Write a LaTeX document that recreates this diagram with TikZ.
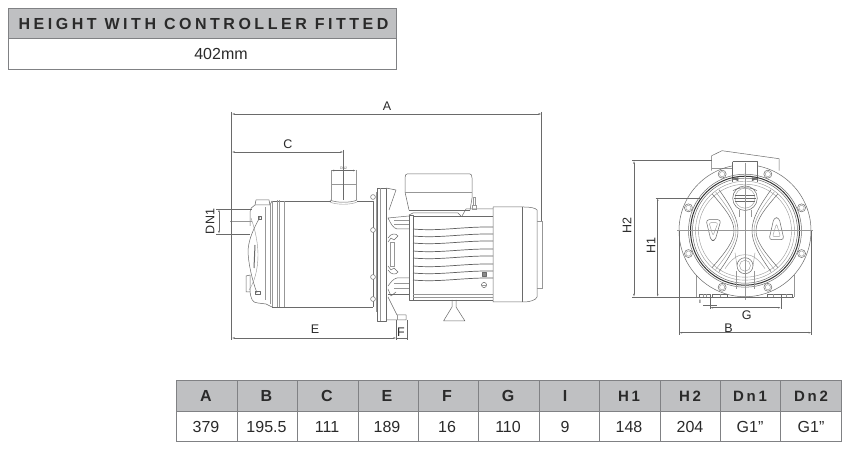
\documentclass[tikz,border=0pt]{standalone}
\usepackage{fontspec}
\setmainfont{Liberation Sans}
\newfontfamily\hdfont[LetterSpace=22]{Liberation Sans Bold}
\newfontfamily\thfont[LetterSpace=4]{Liberation Sans Bold}
\newfontfamily\thwide[LetterSpace=18]{Liberation Sans Bold}
\definecolor{hdr}{HTML}{BFC0C2}
\definecolor{rulec}{HTML}{808184}
\definecolor{ink}{HTML}{6A6A6A}
\definecolor{txt}{HTML}{2A2A2A}
\tikzset{
  part/.style={draw=ink,line width=0.5pt,line join=round},
  thin part/.style={draw=ink!70,line width=0.4pt},
  heavy/.style={draw=ink!50!black,line width=1pt},
  dimline/.style={draw=ink,line width=0.45pt},
  dimarrow/.style={dimline,{Latex[length=3pt,width=1.6pt]}-{Latex[length=3pt,width=1.6pt]}},
  dimlabel/.style={font=\fontsize{12.5}{13}\selectfont,text=txt,inner sep=0pt},
  tbl/.style={draw=rulec,line width=0.8pt},
  cellhead/.style={font=\fontsize{16}{16}\thfont,text=txt,inner sep=0pt,anchor=center},
  cellwide/.style={font=\fontsize{15}{16}\thwide,text=txt,inner sep=0pt,anchor=center},
  cellval/.style={font=\fontsize{16}{16}\selectfont,text=txt,inner sep=0pt,anchor=center},
}
\usetikzlibrary{arrows.meta}
\begin{document}
\begin{tikzpicture}[x=1pt,y=-1pt]
\useasboundingbox (0,0) rectangle (849,454);
\fill[white] (0,0) rectangle (849,454);
% header table
\fill[hdr] (8.5,8) rectangle (396.5,38.5);
\draw[tbl] (8.5,8) rectangle (396.5,69.5);
\draw[tbl] (8.5,38.5) -- (396.5,38.5);
\node[font=\fontsize{16}{16}\hdfont,text=txt,inner sep=0pt] (hdr) at (203.5,23.5) {HEIGHT WITH CONTROLLER FITTED};
\node[cellval] (hv) at (221,54) {402mm};
% bottom table
\fill[hdr] (176.5,380) rectangle (841,411);
\draw[tbl] (176.5,380) rectangle (841,441);
\draw[tbl] (176.5,411) -- (841,411);
\foreach \x in {237.5,297.5,358,418.5,478.5,539.5,599.5,660,720.5,780.5} \draw[tbl] (\x,380) -- (\x,441);
\foreach \x/\h/\v/\s in {206/A/379/cellhead,266.5/B/195.5/cellhead,327/C/111/cellhead,387/E/189/cellhead,447/F/16/cellhead,508/G/110/cellhead,565/I/9/cellhead,629/H1/148/cellwide,690/H2/204/cellwide,750/Dn1/G1”/cellwide,811/Dn2/G1”/cellwide}{
  \node[\s] (h\h) at (\x,396) {\h};
  \node[cellval] (v\h) at (\x,426.5) {\v};
}
% ---------- side view ----------
% nozzle
\draw[thin part] (331,200) -- (331,170) (356,170) -- (356,200);
\draw[thin part] (331,184) -- (356,184);
\draw[part] (330,200) .. controls (336,203) and (351,203) .. (357,200);
\draw[thin part] (330,202) .. controls (336,205) and (351,205) .. (357,202);
\draw[dimarrow] (331,170.5) -- (356,170.5);
\node[font=\fontsize{3.5}{4}\selectfont,text=ink,inner sep=0pt] (dn2t) at (343.5,168) {DN2};
% body
\draw[part] (272,201) -- (331,201) (357,201) -- (373,201);
\draw[part] (272,307) -- (373,307);
\draw[part] (373,201) -- (373,307);
\draw[thin part] (277,200.5) -- (277,307) (279,200.5) -- (279,307) (284,201) -- (284,307);
\draw[thin part] (272,201) -- (272,307);
% front cover
\draw[part] (272,201) -- (270,205) -- (255,205) .. controls (252,206) and (250,209) .. (250,213) -- (250,226);
\draw[part] (255,205) -- (256,200) -- (269,200) -- (270,205);
\draw[part] (246,276) -- (250,275) -- (250,292) -- (246,292) -- cycle;
\draw[part] (250,292) .. controls (251,298) and (252,303) .. (258,303) -- (266,304) -- (272,307);
\draw[part] (260,217) .. controls (254,228) and (249,238) .. (248,250) .. controls (248,262) and (252,280) .. (257,293);
\draw[thin part] (251,218) .. controls (256,232) and (258,245) .. (258,255) .. controls (258,270) and (254,283) .. (249,290);
\draw[part] (258,216) rectangle (261,219) (255,291) rectangle (260,294);
\draw[heavy,draw=ink] (255,245) -- (254,268);
\draw[thin part] (265,207) -- (265,300);
\draw[thin part] (270,205) -- (270,304);
% DN1
\draw[dimline] (216,209) -- (252,209) (216,234) -- (250,234);
\draw[dimarrow] (219,209) -- (219,234);
\draw[thin part] (230,221.5) -- (252,221.5);
\node[dimlabel,rotate=90] (dn1) at (210,221.5) {DN1};
% bolts
\foreach \y in {197,230,277,299} {
  \draw[part,fill=white] (373,\y) circle (2.4);
}
\draw[thin part] (376,192) -- (376,312);
% flange
\draw[part] (377,188) -- (386,188) -- (386,321) -- (377,321) -- cycle;
\draw[thin part] (380,188) -- (380,321);
\draw[part] (386,188) -- (396,190) -- (389,210);
\draw[part] (388,297) -- (397,315) -- (406,315) -- (406,320) -- (386,320);
\draw[thin part] (397,315) -- (397,320);
% arms
\draw[part] (388,218) -- (409,216) (388,218) .. controls (391,224) and (393,228) .. (397,229) -- (409,229);
\draw[thin part] (394,220) -- (409,220) (394,224) -- (409,224);
\draw[part] (388,286) .. controls (391,282) and (393,279) .. (397,278) -- (409,278);
\draw[part] (388,294) -- (409,294);
\draw[thin part] (394,283) -- (409,283) (394,288) -- (409,288);
\draw[part] (388,289) -- (391,296) -- (396,292);
% centre piece
\draw[part] (388,238) .. controls (391,233) and (396,233) .. (398,236) -- (394,240) -- (391,238) -- (388,242);
\draw[part] (388,270) .. controls (391,275) and (396,275) .. (398,272) -- (394,268) -- (391,270) -- (388,266);
\draw[thin part] (390,242) rectangle (394,266);
% motor
\draw[part] (409,215) rectangle (413,300);
\draw[part] (413,216) -- (493,216) (413,300) -- (493,300);
\draw[thin part] (413,294.5) -- (493,294.5);
\draw[heavy,draw=ink!70,line width=1.3pt] (413,297.5) -- (493,297.5);
\foreach \dy in {229,236,243,251,258,266,273,280} {
  \draw[part,line width=0.7pt,draw=ink!90!black] (413,\dy) .. controls (440,\dy+2.5) and (462,\dy-2.5) .. (493,\dy-2);
}
% conduit pad
\draw[part] (409,215) -- (413,213) -- (458,213) -- (461,216);
\draw[part] (462,216) -- (466,209) -- (493,209);
\draw[part] (409,210) -- (470,210);
% terminal box
\draw[part] (407,174) .. controls (406,174) and (405,175) .. (405,178) -- (405,192) -- (409,210);
\draw[part] (407,174) -- (470,174) .. controls (471,174) and (472,175) .. (472,178) -- (472,198) -- (470,210);
\draw[thin part] (405,192) -- (472,192);
\draw[thin part] (473,197) rectangle (475,205) (472,205) rectangle (476,209);
% fan cover
\draw[part] (493,207) -- (524,207) .. controls (530,207) and (536,208) .. (537,210) -- (537,297) .. controls (536,300) and (530,302) .. (524,302) -- (493,302) -- cycle;
\draw[part] (522,207) -- (522,302);
\draw[thin part] (537,221) -- (541.7,221) -- (541.7,288) -- (537,288);
% cable gland
\draw[part,fill=ink!80] (482,272) rectangle (486,276);
\draw[part] (484,285) circle (2.6);
\draw[thin part] (481,285) -- (487,285);
% stand
\draw[part] (452,300) -- (452,307) -- (443.5,321) -- (465,321) -- (456,307) -- (456,300);
% dims side
\coordinate (al) at (231.7,114); \coordinate (ar) at (541.7,114);
\draw[dimline] (231.7,112) -- (231.7,340);
\draw[dimline] (541.7,112) -- (541.7,221);
\draw[dimarrow] (al) -- (ar);
\node[dimlabel] (la) at (387,106) {A};
\draw[dimline] (343.5,150) -- (343.5,200);
\draw[dimarrow] (231.7,152) -- (343.5,152);
\node[dimlabel] (lc) at (288,144) {C};
\draw[dimarrow] (231.7,338) -- (396.5,338);
\draw[dimline] (396.5,320) -- (396.5,340) (407,320) -- (407,340);
\draw[dimline] (396.5,338) -- (407,338);
\node[dimlabel] (le) at (315,329) {E};
\node[dimlabel] (lf) at (401,332) {F};
% ---------- front view ----------
\begin{scope}[shift={(745,230.7)}]
% motor behind
\draw[part] (-33.3,-60) -- (-33.3,-75) -- (-23,-80) -- (34,-72) -- (34,-60);
\draw[thin part] (-33.3,-62) -- (-12.4,-62);
\draw[part] (-12.4,-69) -- (12.4,-69) -- (12.4,-49) (-12.4,-69) -- (-12.4,-49);
\draw[thin part] (-49,44) -- (-49,66);
\draw[thin part] (49,44) -- (49,66);
% outer circle
\draw[part] (0,0) circle (66);
\fill[white] (-12,-66.5) rectangle (12,-49);
\draw[part] (-12.4,-69) -- (-12.4,-49) (12.4,-69) -- (12.4,-49);
\draw[heavy] (0,0) circle (54.5);
\draw[part] (0,0) circle (56.5);
\draw[part] (0,0) circle (52.5);
\draw[thin part] (0,0) circle (49.5);
\draw[thin part] (0,0) circle (46.5);
% bolts
\foreach \a in {22,68,112,158,202,248,292,338} {
  \draw[part,fill=white] (\a:61) circle (4);
  \draw[thin part] (\a:61) circle (2.6);
}
% top seats
\draw[part,fill=ink] (-12,-52) -- (-7,-53) -- (-7,-50) -- cycle (12,-52) -- (7,-53) -- (7,-50) -- cycle;
% S curves
\foreach \s in {1,-1} {
\begin{scope}[xscale=\s]
\draw[part] (26,-41) .. controls (14,-24) and (7,-12) .. (7,0) .. controls (7,12) and (14,24) .. (26,41);
\draw[part] (33,-37) .. controls (20,-22) and (11,-11) .. (11,0) .. controls (11,11) and (20,22) .. (33,37);
\draw[thin part] (29.5,-39) .. controls (17,-23) and (9,-11.5) .. (9,0) .. controls (9,11.5) and (17,23) .. (29.5,39);
\draw[thin part] (0,24) .. controls (6,24) and (12,26) .. (20,38);
\draw[thin part] (9,40) -- (9,58);
\end{scope}
}
% triangles
\draw[part,rounded corners=3pt] (-39,-11) -- (-24,-11) -- (-30,10) -- (-34,10) -- cycle;
\draw[thin part,rounded corners=2pt] (-36,-8) -- (-27,-8) -- (-32,5) -- cycle;
\draw[part,rounded corners=3pt] (29,-13) -- (34,-13) -- (39,9) -- (24,9) -- cycle;
\draw[thin part,rounded corners=2pt] (31.5,-7) -- (35.5,6) -- (27.5,6) -- cycle;
% top valve
\draw[part,fill=white] (0,-32.5) circle (12.3);
\draw[thin part] (0,-32.5) circle (10);
\draw[part] (-11,-32.5) -- (11,-32.5) (-10,-29.5) -- (10,-29.5) (-10,-35.5) -- (10,-35.5);
\draw[part] (-12,-40) .. controls (-6,-44) and (6,-44) .. (12,-40);
\draw[thin part] (-6,-21) -- (-6,-14) (6,-21) -- (6,-14);
% bottom plug
\draw[thin part] (-10,22) -- (-8,35) (10,22) -- (8,35);
\draw[part,fill=white] (0,35) circle (8);
\draw[thin part] (0,35) circle (5.5);
% centre lines
\draw[thin part] (-68,0) -- (68,0);
\draw[thin part] (0,-68) -- (0,69);
\end{scope}
% feet
\draw[part,fill=white] (699,294) rectangle (710,297);
\draw[part,fill=white] (712,294) rectangle (727,297);
\draw[part,fill=white] (767,294) rectangle (781,297);
\draw[part,fill=white] (781,294) rectangle (792,297);
\foreach \x in {703,706,720,773,786} \draw[thin part] (\x,294) -- (\x,297);
% dims front
\draw[dimline] (632,160.7) -- (712,160.7);
\draw[dimline] (655.5,198) -- (700,198);
\draw[dimline] (632,297) -- (794,297);
\draw[dimarrow] (634,160.7) -- (634,297);
\draw[dimarrow] (657.7,198) -- (657.7,297);
\node[dimlabel,rotate=90] (lh2) at (627,226) {H2};
\node[dimlabel,rotate=90] (lh1) at (651,246) {H1};
\draw[dimline] (710,297) -- (710,309) (781,297) -- (781,309);
\draw[dimarrow] (710,307.7) -- (781,307.7);
\node[dimlabel] (lg) at (746.7,315) {G};
\draw[dimline] (679,230.7) -- (679,335) (811.7,230.7) -- (811.7,335);
\draw[dimarrow] (679,332.7) -- (811.7,332.7);
\node[dimlabel] (lb) at (728.5,328) {B};
% I dim
\draw[dimline] (703,305) -- (717,305);
\node[font=\fontsize{5}{5}\selectfont\bfseries,text=txt,inner sep=0pt] (li) at (700,302) {I};
\end{tikzpicture}
\end{document}
